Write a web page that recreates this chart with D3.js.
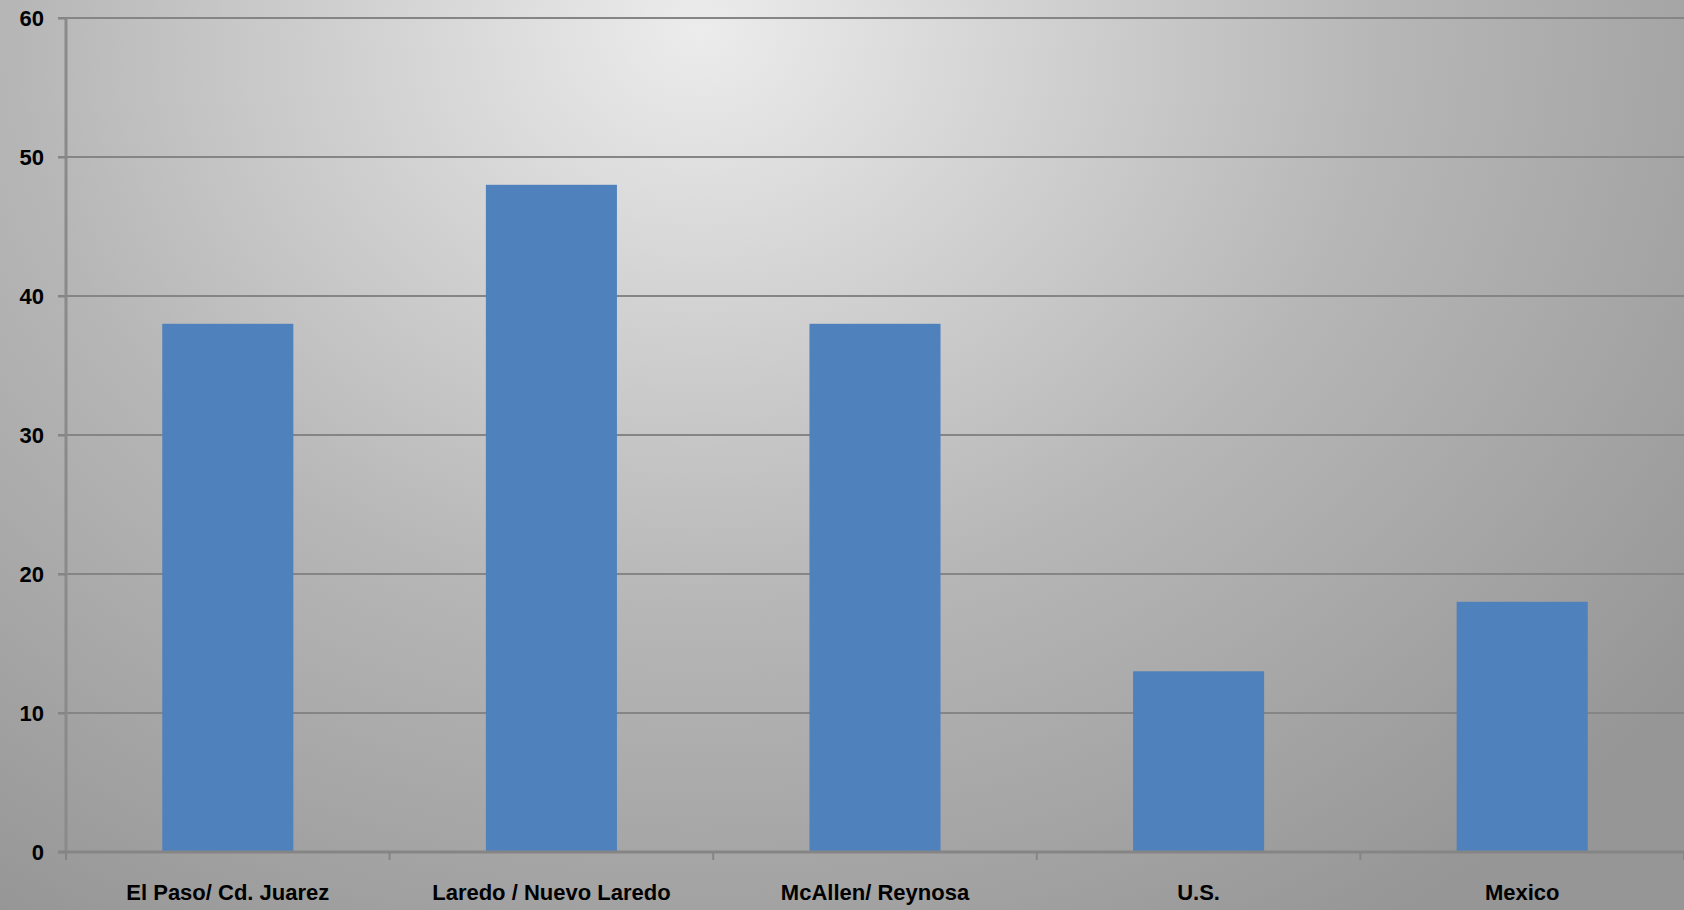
<!DOCTYPE html>
<html><head><meta charset="utf-8">
<script src="https://cdn.jsdelivr.net/npm/d3@7"></script>
<style>html,body{margin:0;padding:0;overflow:hidden;}svg{display:block;}</style>
</head><body>
<svg id="c" width="1684" height="910"></svg>
<script>
const categories = ["El Paso/ Cd. Juarez", "Laredo / Nuevo Laredo", "McAllen/ Reynosa", "U.S.", "Mexico"];
const values = [38, 48, 38, 13, 18];
const yTicks = [0, 10, 20, 30, 40, 50, 60];

const W = 1684, H = 910;
const m = {left: 66, right: 0, top: 18, bottom: 58};
const svg = d3.select("#c");
const defs = svg.append("defs");
const g1 = defs.append("radialGradient").attr("id","bg")
  .attr("gradientUnits","userSpaceOnUse").attr("cx",700).attr("cy",30).attr("r",1250)
  .attr("gradientTransform","translate(700,30) scale(1,0.85) translate(-700,-30)");
g1.append("stop").attr("offset","0").attr("stop-color","#ececec");
g1.append("stop").attr("offset","0.55").attr("stop-color","#b6b6b6");
g1.append("stop").attr("offset","1").attr("stop-color","#969696");
svg.append("rect").attr("width",W).attr("height",H).attr("fill","url(#bg)");

const x = d3.scaleBand().domain(categories).range([m.left, W - m.right]).paddingInner(0.595).paddingOuter(0.2975);
const y = d3.scaleLinear().domain([0, 60]).range([H - m.bottom, m.top]);

// gridlines
svg.append("g").selectAll("line").data(yTicks.filter(d=>d>0)).join("line")
  .attr("x1", m.left - 8).attr("x2", W).attr("y1", d=>y(d)).attr("y2", d=>y(d))
  .attr("stroke","#858585").attr("stroke-width",2);

// bars
svg.append("g").selectAll("rect").data(values).join("rect")
  .attr("x",(d,i)=>x(categories[i])).attr("width",x.bandwidth())
  .attr("y",d=>y(d)).attr("height",d=>y(0)-y(d)).attr("fill","#4f81bd");

// y axis
const yAxis = d3.axisLeft(y).tickValues(yTicks).tickSize(8).tickPadding(14).tickFormat(d3.format("d"));
const ya = svg.append("g").attr("transform",`translate(${m.left},0)`).call(yAxis);
ya.select(".domain").attr("stroke","#8a8a8a").attr("stroke-width",3).attr("d",`M0,${y(60)}V${y(0)}`);
ya.selectAll(".tick line").attr("stroke","#858585").attr("stroke-width",2);
ya.selectAll("text").attr("fill","#000").style("font-family","'Liberation Sans Narrow','Liberation Sans',Arial,sans-serif")
  .style("font-size","22px").style("font-weight","bold").attr("dy","0.35em");

// x axis
const xa = svg.append("g").attr("transform",`translate(0,${y(0)})`);
xa.append("line").attr("x1",m.left-8).attr("x2",W).attr("y1",0).attr("y2",0).attr("stroke","#858585").attr("stroke-width",3);
const step = x.step();
const bounds = d3.range(categories.length + 1).map(i => m.left + i * step);
xa.selectAll("line.tk").data(bounds).join("line").attr("class","tk")
  .attr("x1",d=>d).attr("x2",d=>d).attr("y1",0).attr("y2",8).attr("stroke","#858585").attr("stroke-width",2);
xa.selectAll("text").data(categories).join("text")
  .attr("x",d=>x(d)+x.bandwidth()/2).attr("y",48).attr("text-anchor","middle")
  .attr("fill","#000").style("font-family","'Liberation Sans Narrow','Liberation Sans',Arial,sans-serif")
  .style("font-size","22px").style("font-weight","bold").text(d=>d);
</script>
</body></html>
